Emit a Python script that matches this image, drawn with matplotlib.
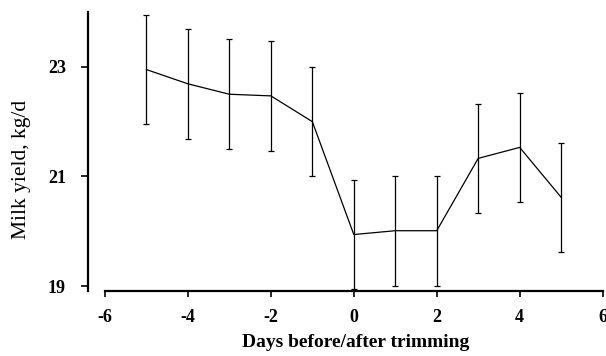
import matplotlib
matplotlib.use('Agg')
import matplotlib.pyplot as plt

# milk yield around hoof trimming
days = [-5, -4, -3, -2, -1, 0, 1, 2, 3, 4, 5]
milk_yield = [22.95, 22.69, 22.50, 22.47, 22.00, 19.94, 20.01, 20.01, 21.33, 21.53, 20.62]
sem = [1.0, 1.0, 1.0, 1.0, 1.0, 1.0, 1.0, 1.0, 0.99, 1.0, 0.99]
xticks = [-6, -4, -2, 0, 2, 4, 6]
yticks = [19, 21, 23]

plt.rcParams['font.family'] = ['Liberation Serif', 'DejaVu Serif']

fig = plt.figure(figsize=(6.06, 3.56), dpi=100)
ax = fig.add_axes([0.1452, 0.1826, 0.8492, 0.7836])

ax.errorbar(days, milk_yield, yerr=sem, color='black', lw=0.9,
            elinewidth=0.9, capsize=2.2, capthick=0.9, clip_on=False)

ax.set_xlim(-6.41, 6.0)
ax.set_ylim(18.91, 24.0)
ax.set_xticks(xticks)
ax.set_yticks(yticks)
ax.set_xticklabels([str(t) for t in xticks], fontweight='bold', fontsize=13)
ax.set_yticklabels([str(t) for t in yticks], fontweight='bold', fontsize=13)

ax.spines['top'].set_visible(False)
ax.spines['right'].set_visible(False)
ax.spines['bottom'].set_bounds(-6, 6)
for s in ['left', 'bottom']:
    ax.spines[s].set_linewidth(1.6)
ax.tick_params(axis='x', direction='out', length=4, width=1.2, pad=9)
ax.tick_params(axis='y', direction='out', length=5, width=1.2, pad=11)

ax.set_xlabel('Days before/after trimming', fontweight='bold', fontsize=14, va='center')
ax.xaxis.set_label_coords(0.521, -0.186)
ax.set_ylabel('Milk yield, kg/d', fontsize=15.5, va='center')
ax.yaxis.set_label_coords(-0.130, 0.434)

fig.savefig('out.png', dpi=100)
